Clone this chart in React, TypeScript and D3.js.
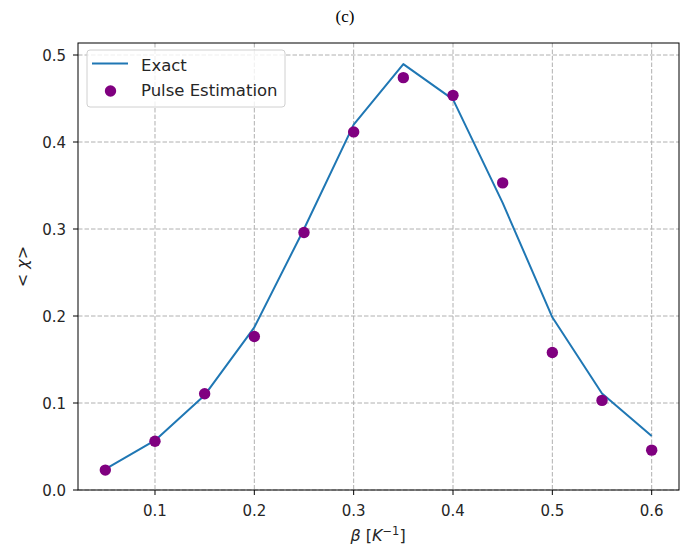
import React from "react";
import * as d3 from "d3";

const betas = [0.05, 0.1, 0.15, 0.2, 0.25, 0.3, 0.35, 0.4, 0.45, 0.5, 0.55, 0.6];
const exactValues = [0.024, 0.057, 0.109, 0.187, 0.3, 0.42, 0.4895, 0.449, 0.33, 0.1985, 0.111, 0.062];
const pulseValues = [0.0229, 0.0561, 0.1107, 0.1764, 0.296, 0.4116, 0.474, 0.4536, 0.353, 0.158, 0.103, 0.0458];
const xTicks = [0.1, 0.2, 0.3, 0.4, 0.5, 0.6];
const yTicks = [0.0, 0.1, 0.2, 0.3, 0.4, 0.5];

const W = 693;
const H = 548;
const left = 78;
const right = 679;
const top = 43;
const bottom = 490;

export default function App() {
  const x = d3.scaleLinear().domain([0.0225, 0.6275]).range([left, right]);
  const y = d3.scaleLinear().domain([0, 0.5138]).range([bottom, top]);
  const line = d3
    .line<number>()
    .x((_, i) => x(betas[i]))
    .y((d) => y(d));
  const font = "DejaVu Sans, sans-serif";
  const gridColor = "#b0b0b0";
  return (
    <svg width={W} height={H} style={{ position: "absolute", left: 0, top: 0 }}>
      <rect x={0} y={0} width={W} height={H} fill="#ffffff" />
      <text x={345} y={22} textAnchor="middle" fontFamily="Liberation Serif, serif" fontSize={17} fill="#000">
        (c)
      </text>
      {/* grid */}
      {xTicks.map((t) => (
        <line key={"gx" + t} x1={x(t)} x2={x(t)} y1={top} y2={bottom} stroke={gridColor} strokeWidth={1} strokeDasharray="4.5,2" />
      ))}
      {yTicks.map((t) => (
        <line key={"gy" + t} x1={left} x2={right} y1={y(t)} y2={y(t)} stroke={gridColor} strokeWidth={1} strokeDasharray="4.5,2" />
      ))}
      {/* data */}
      <path d={line(exactValues) || ""} fill="none" stroke="#1f77b4" strokeWidth={2} strokeLinejoin="round" />
      {pulseValues.map((v, i) => (
        <circle key={"p" + i} cx={x(betas[i])} cy={y(v)} r={5.7} fill="#800080" />
      ))}
      {/* axes */}
      <rect x={left} y={top} width={right - left} height={bottom - top} fill="none" stroke="#000" strokeWidth={1} />
      {xTicks.map((t) => (
        <g key={"xt" + t}>
          <line x1={x(t)} x2={x(t)} y1={bottom} y2={bottom + 5} stroke="#000" strokeWidth={1} />
          <text x={x(t)} y={bottom + 25.5} textAnchor="middle" fontFamily={font} fontSize={15} fill="#262626">
            {t.toFixed(1)}
          </text>
        </g>
      ))}
      {yTicks.map((t) => (
        <g key={"yt" + t}>
          <line x1={left - 5} x2={left} y1={y(t)} y2={y(t)} stroke="#000" strokeWidth={1} />
          <text x={left - 12} y={y(t) + 5.5} textAnchor="end" fontFamily={font} fontSize={15} fill="#262626">
            {t.toFixed(1)}
          </text>
        </g>
      ))}
      {/* axis labels */}
      <text x={378} y={541} textAnchor="middle" fontFamily={font} fontSize={16} fill="#262626">
        <tspan fontStyle="italic">β</tspan>
        <tspan> [</tspan>
        <tspan fontStyle="italic">K</tspan>
        <tspan dy={-6} fontSize={11.5}>−1</tspan>
        <tspan dy={6}>]</tspan>
      </text>
      <text
        transform={`translate(28, ${(top + bottom) / 2}) rotate(-90)`}
        textAnchor="middle"
        fontFamily={font}
        fontSize={16}
        fill="#262626"
      >
        {"< "}
        <tspan fontStyle="italic">χ</tspan>
        {">"}
      </text>
      {/* legend */}
      <rect x={87} y={50} width={198} height={57} rx={3} fill="#ffffff" fillOpacity={0.8} stroke="#d0d0d0" strokeWidth={1} />
      <line x1={92} x2={128} y1={63.5} y2={63.5} stroke="#1f77b4" strokeWidth={2} />
      <text x={141} y={71} fontFamily={font} fontSize={16.5} fill="#262626">
        Exact
      </text>
      <circle cx={110.5} cy={91} r={5.7} fill="#800080" />
      <text x={141} y={95.5} fontFamily={font} fontSize={16.5} fill="#262626">
        Pulse Estimation
      </text>
    </svg>
  );
}
